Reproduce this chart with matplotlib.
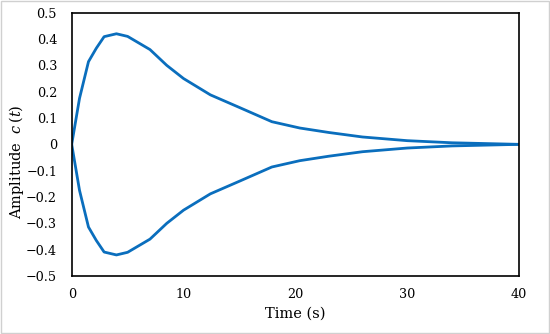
import matplotlib
matplotlib.use("Agg")
import matplotlib.pyplot as plt
from matplotlib.patches import Rectangle

time_s = [0, 0.7, 1.5, 2.2, 2.9, 4, 5, 6, 7, 8.5, 10, 12.4, 15, 17.9, 20.4, 23, 26, 30, 34, 37, 40]
upper = [0, 0.175, 0.314, 0.365, 0.409, 0.42, 0.41, 0.385, 0.36, 0.30, 0.25, 0.188, 0.14, 0.086,
         0.062, 0.045, 0.028, 0.014, 0.006, 0.003, 0.0]
lower = [-v for v in upper]
x_ticks = [0, 10, 20, 30, 40]
y_ticks = [-0.5, -0.4, -0.3, -0.2, -0.1, 0, 0.1, 0.2, 0.3, 0.4, 0.5]
y_tick_labels = ['\u22120.5', '\u22120.4', '\u22120.3', '\u22120.2', '\u22120.1', '0',
                 '0.1', '0.2', '0.3', '0.4', '0.5']

plt.rcParams['font.family'] = ['DejaVu Serif']
plt.rcParams['mathtext.fontset'] = 'dejavuserif'

W, H = 550, 334
fig = plt.figure(figsize=(5.5, 3.34), dpi=100)
ax = fig.add_axes([71.7 / W, 1 - 276 / H, (519 - 71.7) / W, (276 - 12.7) / H])
color = '#0a6ebd'
ax.plot(time_s, upper, color=color, lw=2.0, solid_joinstyle='round')
ax.plot(time_s, lower, color=color, lw=2.0, solid_joinstyle='round')

ax.set_xlim(0, 40)
ax.set_ylim(-0.5, 0.5)
ax.set_xticks(x_ticks)
ax.set_yticks(y_ticks)
ax.set_yticklabels(y_tick_labels)
ax.tick_params(length=0, labelsize=9.2)
ax.tick_params(axis='y', pad=10.5)
ax.tick_params(axis='x', pad=9.0)
for s in ax.spines.values():
    s.set_color('black')
    s.set_linewidth(1.2)

ax.set_xlabel('Time (s)', fontsize=10.5, labelpad=4)
fig.text(17 / W, 1 - 161.5 / H, 'Amplitude  $c\\,(t)$', rotation=90, fontsize=10.5,
         ha='center', va='center')

fig.patches.append(Rectangle((0.001, 0.002), 0.997, 0.995, transform=fig.transFigure,
                             fill=False, edgecolor='#d0d0d0', lw=1.0))

fig.savefig('out.png', dpi=100)
